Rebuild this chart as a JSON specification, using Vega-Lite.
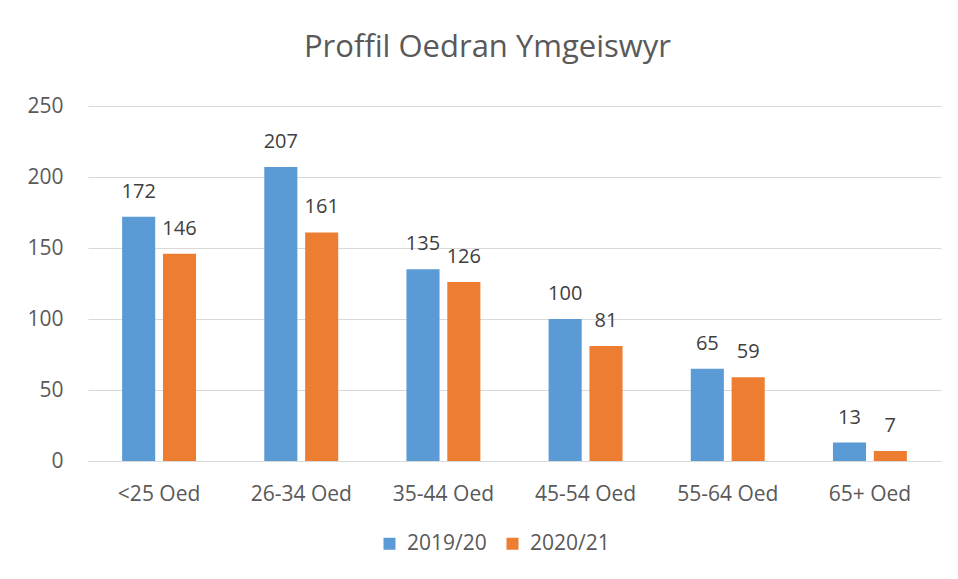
{
  "$schema": "https://vega.github.io/schema/vega-lite/v6.json",
  "width": 853,
  "height": 355,
  "autosize": {"type": "none"},
  "padding": {"left": 88, "top": 106, "right": 17, "bottom": 118},
  "background": "white",
  "title": {
    "text": "Proffil Oedran Ymgeiswyr",
    "font": "Open Sans",
    "fontSize": 31,
    "fontWeight": "normal",
    "color": "#595959",
    "anchor": "middle",
    "frame": "group",
    "baseline": "alphabetic",
    "offset": 7,
    "dx": -27
  },
  "data": {
    "values": [
      {"age": "<25 Oed", "year": "2019/20", "count": 172},
      {"age": "<25 Oed", "year": "2020/21", "count": 146},
      {"age": "26-34 Oed", "year": "2019/20", "count": 207},
      {"age": "26-34 Oed", "year": "2020/21", "count": 161},
      {"age": "35-44 Oed", "year": "2019/20", "count": 135},
      {"age": "35-44 Oed", "year": "2020/21", "count": 126},
      {"age": "45-54 Oed", "year": "2019/20", "count": 100},
      {"age": "45-54 Oed", "year": "2020/21", "count": 81},
      {"age": "55-64 Oed", "year": "2019/20", "count": 65},
      {"age": "55-64 Oed", "year": "2020/21", "count": 59},
      {"age": "65+ Oed", "year": "2019/20", "count": 13},
      {"age": "65+ Oed", "year": "2020/21", "count": 7}
    ]
  },
  "encoding": {
    "x": {
      "field": "age",
      "type": "nominal",
      "sort": null,
      "scale": {"paddingInner": 0.48, "paddingOuter": 0.24},
      "axis": {
        "title": null,
        "labelAngle": 0,
        "ticks": false,
        "tickSize": 0,
        "domainColor": "#D9D9D9",
        "domainWidth": 1,
        "labelFont": "Open Sans",
        "labelFontSize": 21,
        "labelColor": "#595959",
        "labelBaseline": "alphabetic",
        "labelPadding": 39
      }
    },
    "xOffset": {
      "field": "year",
      "type": "nominal",
      "scale": {"paddingInner": 0.19, "paddingOuter": 0}
    },
    "y": {
      "field": "count",
      "type": "quantitative",
      "scale": {"domain": [0, 250], "nice": false},
      "axis": {
        "title": null,
        "values": [0, 50, 100, 150, 200, 250],
        "domain": false,
        "ticks": false,
        "tickSize": 0,
        "gridColor": "#D9D9D9",
        "gridWidth": 1,
        "labelFont": "Open Sans",
        "labelFontSize": 21,
        "labelColor": "#595959",
        "labelPadding": 25
      }
    }
  },
  "layer": [
    {
      "mark": {"type": "bar"},
      "encoding": {
        "color": {
          "field": "year",
          "type": "nominal",
          "scale": {"domain": ["2019/20", "2020/21"], "range": ["#5B9BD5", "#ED7D31"]},
          "legend": {
            "title": null,
            "orient": "none",
            "direction": "horizontal",
            "legendX": 291,
            "legendY": 427,
            "symbolType": "square",
            "symbolSize": 144,
            "symbolStrokeWidth": 0,
            "symbolOpacity": 1,
            "labelFont": "Open Sans",
            "labelFontSize": 21,
            "labelColor": "#595959",
            "labelOffset": 7,
            "columnPadding": 15
          }
        }
      }
    },
    {
      "mark": {
        "type": "text",
        "baseline": "alphabetic",
        "dy": -19,
        "font": "Open Sans",
        "fontSize": 20,
        "color": "#404040"
      },
      "encoding": {
        "text": {"field": "count", "type": "quantitative"}
      }
    }
  ],
  "config": {
    "view": {"stroke": null}
  }
}
